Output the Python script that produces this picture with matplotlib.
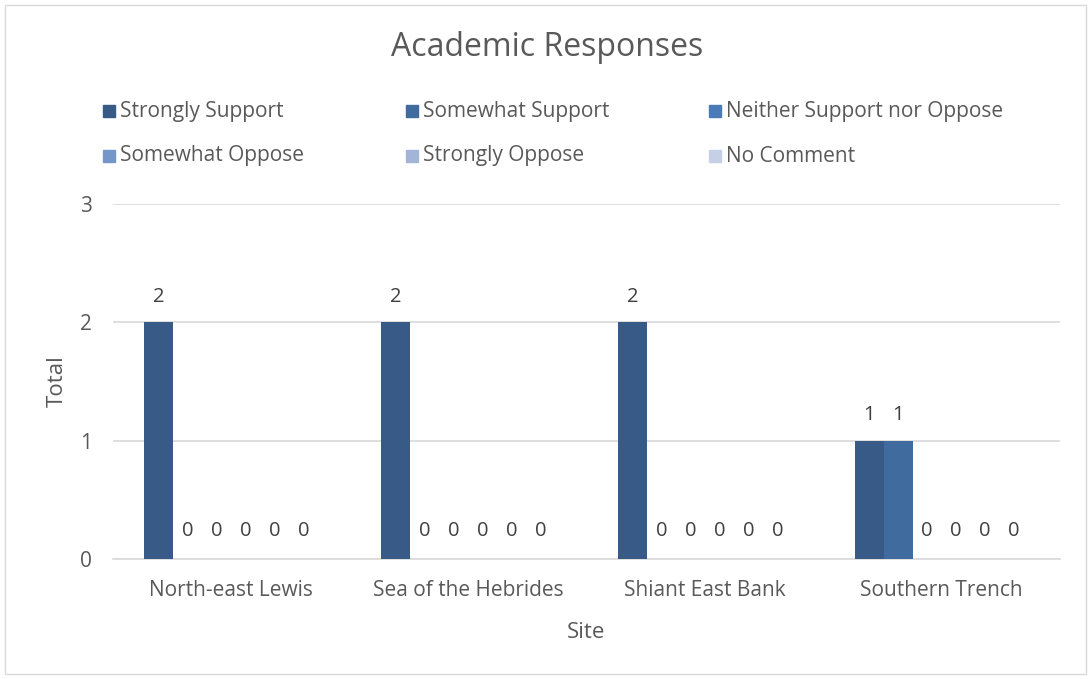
import numpy as np
import matplotlib
matplotlib.use("Agg")
import matplotlib.pyplot as plt
from matplotlib.patches import Rectangle

sites = ["North-east Lewis", "Sea of the Hebrides", "Shiant East Bank", "Southern Trench"]
series = ["Strongly Support", "Somewhat Support", "Neither Support nor Oppose",
          "Somewhat Oppose", "Strongly Oppose", "No Comment"]
strongly_support = [2, 2, 2, 1]
somewhat_support = [0, 0, 0, 1]
neither = [0, 0, 0, 0]
somewhat_oppose = [0, 0, 0, 0]
strongly_oppose = [0, 0, 0, 0]
no_comment = [0, 0, 0, 0]
values = [strongly_support, somewhat_support, neither, somewhat_oppose, strongly_oppose, no_comment]
colors = ["#375A87", "#3F6B9E", "#4A7AB8", "#7596C8", "#A2B5D9", "#C5CFE5"]

plt.rcParams['font.family'] = ['Open Sans', 'DejaVu Sans']
W, H = 1091, 679
fig = plt.figure(figsize=(W / 100, H / 100), dpi=100)
# plot area in pixels: x 113..1060, y 204..559
ax = fig.add_axes([113 / W, 1 - 559 / H, (1060 - 113) / W, (559 - 204) / H])

x = np.arange(len(sites))
bw = 29 / ((1060 - 113) / 4)
for i, (name, vals) in enumerate(zip(series, values)):
    pos = x + (i - 2.5) * bw
    bars = ax.bar(pos, vals, bw, color=colors[i], label=name, zorder=3)
    for xp, v in zip(pos, vals):
        off = 0.13 if v else 0.15
        ax.text(xp, v + off, str(v), ha='center', va='bottom', fontsize=14.5, color='#404040')

ax.set_xlim(-0.5, len(sites) - 0.5)
ax.set_ylim(0, 3)
ax.set_yticks([0, 1, 2, 3])
ax.set_xticks(x)
ax.set_xticklabels(sites)
ax.grid(axis='y', color='#D9D9D9', linewidth=1.2, zorder=0)
for s in ['top', 'right', 'left']:
    ax.spines[s].set_visible(False)
ax.spines['bottom'].set_color('#D9D9D9')
ax.spines['bottom'].set_linewidth(1.2)
ax.tick_params(axis='both', length=0, labelsize=15, colors='#595959')
ax.tick_params(axis='x', pad=15)
ax.tick_params(axis='y', pad=15)
ax.set_xlabel("Site", fontsize=16, color='#595959', labelpad=15)
ax.set_ylabel("Total", fontsize=16, color='#595959', labelpad=9)

fig.text(547 / W, 1 - 48 / H, "Academic Responses", ha='center', va='center',
         fontsize=23, color='#595959')

# legend, 3 columns x 2 rows
for i, name in enumerate(series):
    lx = 103 + 303 * (i % 3)
    ly = 111 + 45 * (i // 3)
    fig.add_artist(Rectangle((lx / W, 1 - (ly + 6) / H), 12 / W, 12 / H,
                             transform=fig.transFigure, color=colors[i]))
    fig.text((lx + 17) / W, 1 - ly / H, name, ha='left', va='center',
             fontsize=15, color='#595959')

fig.add_artist(Rectangle((5 / W, 5 / H), (W - 10) / W, (H - 10) / H, transform=fig.transFigure,
                         fill=False, edgecolor='#D9D9D9', linewidth=1))

fig.savefig("out.png", dpi=100)
